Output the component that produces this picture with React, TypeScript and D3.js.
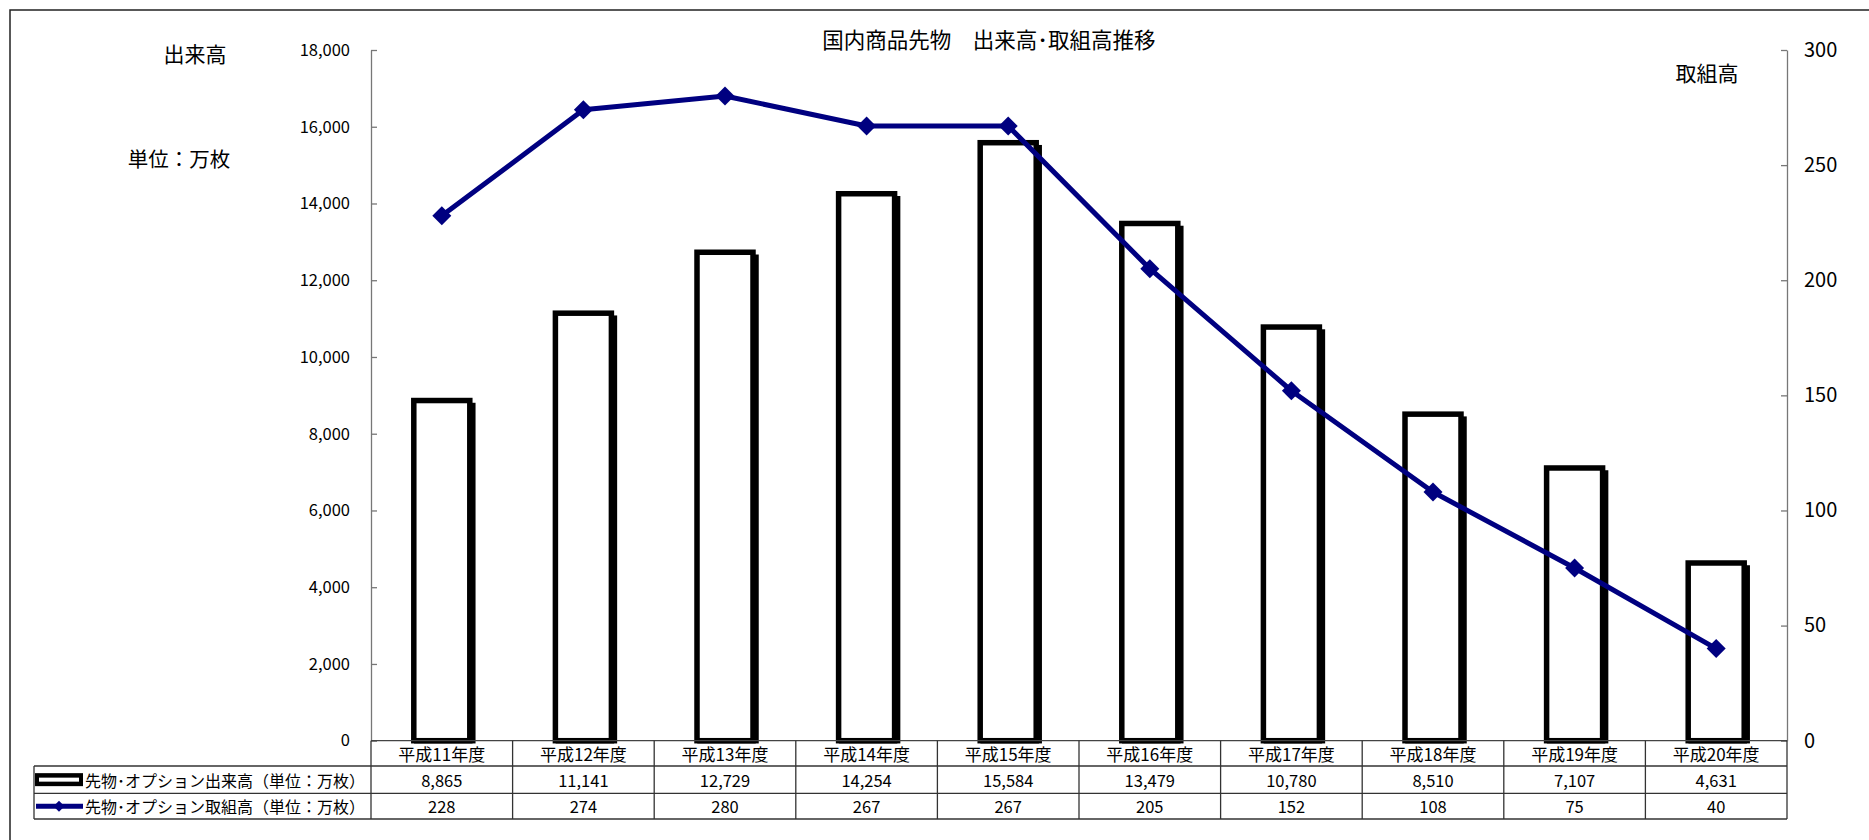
import React, { useEffect, useRef } from "react";
import * as d3 from "d3";

const categories = [
  "平成11年度", "平成12年度", "平成13年度", "平成14年度", "平成15年度",
  "平成16年度", "平成17年度", "平成18年度", "平成19年度", "平成20年度",
];
const volume = [8865, 11141, 12729, 14254, 15584, 13479, 10780, 8510, 7107, 4631];
const openInterest = [228, 274, 280, 267, 267, 205, 152, 108, 75, 40];
const leftTicks = [0, 2000, 4000, 6000, 8000, 10000, 12000, 14000, 16000, 18000];
const rightTicks = [0, 50, 100, 150, 200, 250, 300];
const volumeLabel = "先物･オプション出来高（単位：万枚）";
const oiLabel = "先物･オプション取組高（単位：万枚）";

const JP = "'Noto Sans CJK JP', sans-serif";
const W = 1869;
const H = 840;

const drawChart = (svgEl: SVGSVGElement) => {
  const svg = d3.select(svgEl);
  svg.selectAll("*").remove();

  const plotL = 371, plotR = 1787, plotT = 50, plotB = 740.7;
  const rowY = [plotB, 766, 793.3, 819];
  const tableL = 34;

  const x = d3.scaleBand().domain(categories).range([plotL, plotR]).padding(0);
  const yL = d3.scaleLinear().domain([0, 18000]).range([plotB, plotT]);
  const yR = d3.scaleLinear().domain([0, 300]).range([plotB, plotT]);

  svg.append("rect").attr("width", W).attr("height", H).attr("fill", "#fff");

  // outer chart border
  svg.append("path")
    .attr("d", `M10,${H} L10,10 L${W},10`)
    .attr("fill", "none").attr("stroke", "#222").attr("stroke-width", 1.5);

  // title + axis captions
  const caption = (tx: string, cxp: number, cyp: number, size: number) =>
    svg.append("text").attr("x", cxp).attr("y", cyp)
      .attr("text-anchor", "middle").attr("dominant-baseline", "central")
      .style("font-family", JP).style("font-size", `${size}px`).text(tx);
  caption("国内商品先物　出来高･取組高推移", 989, 38, 21.5);
  caption("出来高", 195, 53, 21);
  caption("単位：万枚", 179, 158, 20.5);
  caption("取組高", 1707, 72, 21);

  // axes
  const fmt = d3.format(",");
  const gL = svg.append("g").attr("transform", `translate(${plotL},0)`)
    .call(d3.axisLeft(yL).tickValues(leftTicks).tickFormat((d) => fmt(d as number))
      .tickSizeInner(-6).tickSizeOuter(0).tickPadding(21));
  const gR = svg.append("g").attr("transform", `translate(${plotR},0)`)
    .call(d3.axisRight(yR).tickValues(rightTicks).tickFormat((d) => String(d))
      .tickSizeInner(-6).tickSizeOuter(0).tickPadding(17));
  [gL, gR].forEach((g) => {
    g.selectAll("path, line").attr("stroke", "#777").attr("stroke-width", 1.3);
    g.selectAll("text").style("font-family", JP).attr("fill", "#000");
  });
  gL.selectAll("text").style("font-size", "16.5px");
  gR.selectAll("text").style("font-size", "20px");

  // bars: shadow then outlined white bar
  const bw = 56;
  const bars = svg.append("g");
  bars.selectAll("rect.shadow").data(volume).enter().append("rect")
    .attr("class", "shadow")
    .attr("x", (_, i) => (x(categories[i]) || 0) + x.bandwidth() / 2 - bw / 2 + 3)
    .attr("y", (d) => yL(d) + 5)
    .attr("width", bw)
    .attr("height", (d) => plotB - yL(d) - 5)
    .attr("fill", "none").attr("stroke", "#000").attr("stroke-width", 5.5);
  bars.selectAll("rect.bar").data(volume).enter().append("rect")
    .attr("class", "bar")
    .attr("x", (_, i) => (x(categories[i]) || 0) + x.bandwidth() / 2 - bw / 2)
    .attr("y", (d) => yL(d))
    .attr("width", bw)
    .attr("height", (d) => plotB - yL(d))
    .attr("fill", "#fff").attr("stroke", "#000").attr("stroke-width", 5.5);

  // x axis line
  svg.append("line").attr("x1", plotL).attr("x2", plotR).attr("y1", plotB).attr("y2", plotB)
    .attr("stroke", "#444").attr("stroke-width", 1.3);

  // line series
  const cx = (i: number) => (x(categories[i]) || 0) + x.bandwidth() / 2;
  const line = d3.line<number>().x((_, i) => cx(i)).y((d) => yR(d));
  svg.append("path").datum(openInterest).attr("d", line)
    .attr("fill", "none").attr("stroke", "#000080").attr("stroke-width", 5)
    .attr("stroke-linejoin", "round");
  const diamond = d3.symbol().type(d3.symbolSquare).size(180);
  svg.append("g").selectAll("path").data(openInterest).enter().append("path")
    .attr("d", diamond)
    .attr("transform", (d, i) => `translate(${cx(i)},${yR(d)}) rotate(45)`)
    .attr("fill", "#000080");

  // data table
  const t = svg.append("g");
  const gridColor = "#333";
  [rowY[1], rowY[2], rowY[3]].forEach((yy) => {
    t.append("line").attr("x1", tableL).attr("x2", plotR).attr("y1", yy).attr("y2", yy)
      .attr("stroke", gridColor).attr("stroke-width", 1.3);
  });
  t.append("line").attr("x1", tableL).attr("x2", tableL).attr("y1", rowY[1]).attr("y2", rowY[3])
    .attr("stroke", gridColor).attr("stroke-width", 1.3);
  const bounds = categories.map((c) => x(c) || 0).concat([plotR]);
  t.selectAll("line.v").data(bounds).enter().append("line").attr("class", "v")
    .attr("x1", (d) => d).attr("x2", (d) => d).attr("y1", rowY[0]).attr("y2", rowY[3])
    .attr("stroke", gridColor).attr("stroke-width", 1.3);

  const cellText = (vals: string[], yMid: number, size: number) => {
    t.append("g").selectAll("text").data(vals).enter().append("text")
      .attr("x", (_, i) => cx(i)).attr("y", yMid)
      .attr("text-anchor", "middle").attr("dominant-baseline", "central")
      .style("font-family", JP).style("font-size", `${size}px`)
      .text((d) => d);
  };
  cellText(categories, (rowY[0] + rowY[1]) / 2, 17);
  cellText(volume.map((v) => fmt(v)), (rowY[1] + rowY[2]) / 2, 16.5);
  cellText(openInterest.map((v) => String(v)), (rowY[2] + rowY[3]) / 2, 16.5);

  // legend keys
  const m1 = (rowY[1] + rowY[2]) / 2;
  const m2 = (rowY[2] + rowY[3]) / 2;
  t.append("rect").attr("x", 35).attr("y", m1 - 6.5).attr("width", 48).attr("height", 13).attr("fill", "#000");
  t.append("rect").attr("x", 39).attr("y", m1 - 2).attr("width", 40).attr("height", 4).attr("fill", "#fff");
  t.append("line").attr("x1", 36).attr("x2", 83).attr("y1", m2).attr("y2", m2)
    .attr("stroke", "#000080").attr("stroke-width", 5);
  t.append("path").attr("d", d3.symbol().type(d3.symbolSquare).size(60))
    .attr("transform", `translate(59,${m2}) rotate(45)`).attr("fill", "#000080");
  t.append("text").attr("x", 85).attr("y", m1).attr("dominant-baseline", "central")
    .style("font-family", JP).style("font-size", "16px").text(volumeLabel);
  t.append("text").attr("x", 85).attr("y", m2).attr("dominant-baseline", "central")
    .style("font-family", JP).style("font-size", "16px").text(oiLabel);
};

const App = () => {
  const ref = useRef<SVGSVGElement>(null);
  useEffect(() => {
    if (ref.current) drawChart(ref.current);
  }, []);
  return (
    <svg
      ref={ref}
      width={W}
      height={H}
      style={{ position: "absolute", left: 0, top: 0, display: "block" }}
    />
  );
};

export default App;
